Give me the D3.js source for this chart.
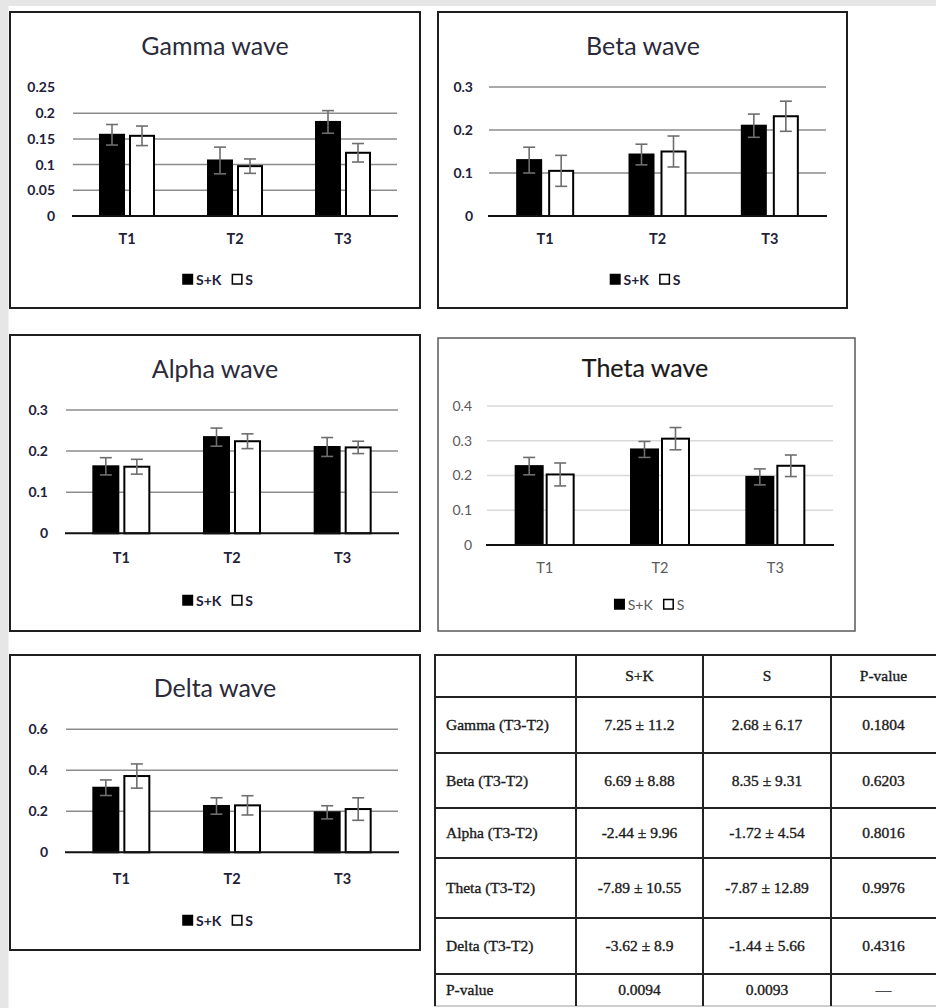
<!DOCTYPE html>
<html><head><meta charset="utf-8">
<script src="https://cdn.jsdelivr.net/npm/d3@7"></script>
<style>body{margin:0;background:#fff}svg{display:block}</style>
</head><body><svg id="c" width="936" height="1008"></svg>
<script>
// ---------- DATA ----------
const categories = ["T1", "T2", "T3"];
const seriesNames = ["S+K", "S"];

const gammaSK = [0.158, 0.108, 0.183], gammaSKErr = [0.020, 0.026, 0.022];
const gammaS  = [0.156, 0.097, 0.123], gammaSErr  = [0.019, 0.014, 0.018];
const betaSK  = [0.130, 0.143, 0.210], betaSKErr  = [0.030, 0.024, 0.027];
const betaS   = [0.105, 0.150, 0.232], betaSErr   = [0.036, 0.036, 0.035];
const alphaSK = [0.163, 0.234, 0.210], alphaSKErr = [0.021, 0.022, 0.023];
const alphaS  = [0.162, 0.224, 0.209], alphaSErr  = [0.018, 0.018, 0.015];
const thetaSK = [0.227, 0.275, 0.196], thetaSKErr = [0.025, 0.023, 0.023];
const thetaS  = [0.203, 0.306, 0.228], thetaSErr  = [0.033, 0.032, 0.031];
const deltaSK = [0.315, 0.226, 0.195], deltaSKErr = [0.038, 0.040, 0.032];
const deltaS  = [0.372, 0.229, 0.211], deltaSErr  = [0.059, 0.047, 0.055];

const gammaTicks = [0, 0.05, 0.1, 0.15, 0.2, 0.25];
const gammaTickLabels = ["0", "0.05", "0.1", "0.15", "0.2", "0.25"];
const gammaGrid = [0.05, 0.1, 0.15, 0.2];
const betaTicks = [0, 0.1, 0.2, 0.3];
const betaTickLabels = ["0", "0.1", "0.2", "0.3"];
const betaGrid = [0.1, 0.2, 0.3];
const alphaTicks = [0, 0.1, 0.2, 0.3];
const alphaTickLabels = ["0", "0.1", "0.2", "0.3"];
const alphaGrid = [0.1, 0.2, 0.3];
const thetaTicks = [0, 0.1, 0.2, 0.3, 0.4];
const thetaTickLabels = ["0", "0.1", "0.2", "0.3", "0.4"];
const thetaGrid = [0.1, 0.2, 0.3, 0.4];
const deltaTicks = [0, 0.2, 0.4, 0.6];
const deltaTickLabels = ["0", "0.2", "0.4", "0.6"];
const deltaGrid = [0.2, 0.4, 0.6];

const tableHeader = ["", "S+K", "S", "P-value"];
const tableRowLabels = ["Gamma (T3-T2)", "Beta (T3-T2)", "Alpha (T3-T2)", "Theta (T3-T2)", "Delta (T3-T2)", "P-value"];
const tableSK = ["7.25 ± 11.2", "6.69 ± 8.88", "-2.44 ± 9.96", "-7.89 ± 10.55", "-3.62 ± 8.9", "0.0094"];
const tableS  = ["2.68 ± 6.17", "8.35 ± 9.31", "-1.72 ± 4.54", "-7.87 ± 12.89", "-1.44 ± 5.66", "0.0093"];
const tableP  = ["0.1804", "0.6203", "0.8016", "0.9976", "0.4316", "—"];

// ---------- LAYOUT ----------
const svg = d3.select("#c");
svg.append("rect").attr("width", 936).attr("height", 1008).attr("fill", "#fff");
svg.append("rect").attr("x", 0).attr("y", 0).attr("width", 936).attr("height", 6).attr("fill", "#e6e6e6");
svg.append("rect").attr("x", 0).attr("y", 0).attr("width", 8.5).attr("height", 1008).attr("fill", "#e6e6e6");

const FONT = "Lato, 'Open Sans', sans-serif";

const excelStyle = {boxColor: "#1e1e1e", boxW: 2, gridColor: "#8c8c8c", gridW: 1.5, labelColor: "#22223a", labelWeight: "bold", titleColor: "#2a2a3a", titleStroke: 0};
const thetaStyle = {boxColor: "#5a5a5a", boxW: 1.5, gridColor: "#d9d9d9", gridW: 1.5, labelColor: "#595959", labelWeight: "normal", titleColor: "#1a1a1a", titleStroke: 0.2};

const panels = [
  {title: "Gamma wave", sk: gammaSK, skErr: gammaSKErr, s: gammaS, sErr: gammaSErr, ticks: gammaTicks, tickLabels: gammaTickLabels, grid: gammaGrid, max: 0.25,
   box: [10, 12, 420, 308], left: 73, right: 397, y0: 216, yTop: 87.5, labelX: 55, xLabelY: 239, legendY: 280, titleX: 215, titleY: 55, pair: 54, pad: 0.2, style: excelStyle},
  {title: "Beta wave", sk: betaSK, skErr: betaSKErr, s: betaS, sErr: betaSErr, ticks: betaTicks, tickLabels: betaTickLabels, grid: betaGrid, max: 0.3,
   box: [438, 12, 847, 308], left: 489, right: 826, y0: 216, yTop: 87, labelX: 473, xLabelY: 239, legendY: 280, titleX: 643, titleY: 55, pair: 56, pad: 0.25, style: excelStyle},
  {title: "Alpha wave", sk: alphaSK, skErr: alphaSKErr, s: alphaS, sErr: alphaSErr, ticks: alphaTicks, tickLabels: alphaTickLabels, grid: alphaGrid, max: 0.3,
   box: [10, 335, 420, 631], left: 66, right: 398, y0: 533.3, yTop: 410, labelX: 48, xLabelY: 558, legendY: 601, titleX: 215, titleY: 377.5, pair: 56, pad: 0.194, style: excelStyle},
  {title: "Theta wave", sk: thetaSK, skErr: thetaSKErr, s: thetaS, sErr: thetaSErr, ticks: thetaTicks, tickLabels: thetaTickLabels, grid: thetaGrid, max: 0.4,
   box: [438, 338, 855, 631], left: 487, right: 833, y0: 545, yTop: 406, labelX: 472, xLabelY: 568, legendY: 605, titleX: 645, titleY: 376.5, pair: 58, pad: 0.129, style: thetaStyle},
  {title: "Delta wave", sk: deltaSK, skErr: deltaSKErr, s: deltaS, sErr: deltaSErr, ticks: deltaTicks, tickLabels: deltaTickLabels, grid: deltaGrid, max: 0.6,
   box: [10, 655, 420, 950], left: 66, right: 398, y0: 852.3, yTop: 729.3, labelX: 48, xLabelY: 879, legendY: 921, titleX: 215, titleY: 696.5, pair: 56, pad: 0.194, style: excelStyle}
];

function drawPanel(p) {
  const st = p.style;
  const g = svg.append("g");
  g.append("rect").attr("x", p.box[0]).attr("y", p.box[1])
    .attr("width", p.box[2] - p.box[0]).attr("height", p.box[3] - p.box[1])
    .attr("fill", "#fff").attr("stroke", st.boxColor).attr("stroke-width", st.boxW);

  const x0 = d3.scaleBand().domain(categories).range([p.left, p.right]);
  const bw = x0.bandwidth();
  const x1 = d3.scaleBand().domain(seriesNames).range([bw / 2 - p.pair / 2, bw / 2 + p.pair / 2]).paddingInner(p.pad);
  const y = d3.scaleLinear().domain([0, p.max]).range([p.y0, p.yTop]);

  g.append("g").selectAll("line").data(p.grid).join("line")
    .attr("x1", p.left).attr("x2", p.right)
    .attr("y1", d => y(d)).attr("y2", d => y(d))
    .attr("stroke", st.gridColor).attr("stroke-width", st.gridW);

  const ya = g.append("g").attr("transform", `translate(${p.labelX},0)`)
    .call(d3.axisLeft(y).tickValues(p.ticks).tickFormat((d, i) => p.tickLabels[i]).tickSize(0).tickPadding(0));
  ya.select(".domain").remove();
  ya.selectAll("text").attr("font-family", FONT).attr("font-size", 14).attr("font-weight", st.labelWeight).attr("fill", st.labelColor);

  const series = [
    {name: "S+K", vals: p.sk, errs: p.skErr, fill: "#000"},
    {name: "S", vals: p.s, errs: p.sErr, fill: "#fff"}
  ];
  series.forEach(se => {
    const data = categories.map((c, i) => ({c, v: se.vals[i], e: se.errs[i]}));
    g.append("g").selectAll("rect").data(data).join("rect")
      .attr("x", d => x0(d.c) + x1(se.name))
      .attr("y", d => y(d.v))
      .attr("width", x1.bandwidth())
      .attr("height", d => y(0) - y(d.v))
      .attr("fill", se.fill).attr("stroke", "#000").attr("stroke-width", 2);
  });
  series.forEach(se => {
    const data = categories.map((c, i) => ({c, v: se.vals[i], e: se.errs[i]}));
    const eg = g.append("g").attr("stroke", "#6e6e6e").attr("stroke-width", 1.6);
    data.forEach(d => {
      const cx = x0(d.c) + x1(se.name) + x1.bandwidth() / 2;
      eg.append("line").attr("x1", cx).attr("x2", cx).attr("y1", y(d.v + d.e)).attr("y2", y(d.v - d.e));
      eg.append("line").attr("x1", cx - 6).attr("x2", cx + 6).attr("y1", y(d.v + d.e)).attr("y2", y(d.v + d.e));
      eg.append("line").attr("x1", cx - 6).attr("x2", cx + 6).attr("y1", y(d.v - d.e)).attr("y2", y(d.v - d.e));
    });
  });

  g.append("line").attr("x1", p.left - 1).attr("x2", p.right + 1).attr("y1", y(0)).attr("y2", y(0))
    .attr("stroke", "#111").attr("stroke-width", 2);

  g.append("g").selectAll("text").data(categories).join("text")
    .attr("x", d => x0(d) + bw / 2).attr("y", p.xLabelY).attr("dy", "0.35em")
    .attr("text-anchor", "middle").attr("font-family", FONT).attr("font-size", 14.5)
    .attr("font-weight", st.labelWeight).attr("fill", st.labelColor).text(d => d);

  g.append("text").attr("x", p.titleX).attr("y", p.titleY).attr("text-anchor", "middle")
    .attr("font-family", FONT).attr("font-size", 25).attr("fill", st.titleColor)
    .attr("stroke", st.titleColor).attr("stroke-width", st.titleStroke).text(p.title);

  const lg = g.append("g");
  const sw = 11;
  let cx = 0;
  series.forEach(se => {
    lg.append("rect").attr("x", cx).attr("y", p.legendY - sw / 2).attr("width", sw - 1.5).attr("height", sw - 1.5)
      .attr("fill", se.fill).attr("stroke", "#000").attr("stroke-width", 1.5);
    cx += sw + 2;
    const t = lg.append("text").attr("x", cx).attr("y", p.legendY).attr("dy", "0.35em")
      .attr("font-family", FONT).attr("font-size", 14).attr("font-weight", st.labelWeight)
      .attr("fill", st.labelColor).text(se.name);
    cx += t.node().getComputedTextLength() + 11;
  });
  const total = cx - 11;
  const center = (p.box[0] + p.box[2]) / 2 + 3;
  lg.attr("transform", `translate(${center - total / 2},0)`);
}
panels.forEach(drawPanel);

// ---------- TABLE ----------
const colX = [435, 576, 703, 831, 945];
const rowY = [655, 697, 753, 808, 858, 918, 974, 1006];
const tg = svg.append("g");
const rows = [tableHeader].concat(tableRowLabels.map((l, i) => [l, tableSK[i], tableS[i], tableP[i]]));
tg.append("rect").attr("x", colX[0]).attr("y", rowY[0]).attr("width", colX[4] - colX[0]).attr("height", rowY[7] - rowY[0]).attr("fill", "#fff");
tg.selectAll("line.h").data(rowY).join("line").attr("class", "h")
  .attr("x1", colX[0] - 1).attr("x2", colX[4]).attr("y1", d => d).attr("y2", d => d)
  .attr("stroke", (d, i) => i === rowY.length - 1 ? "#cfcfcf" : "#222").attr("stroke-width", 2);
tg.selectAll("line.v").data(colX.slice(0, 4)).join("line").attr("class", "v")
  .attr("x1", d => d).attr("x2", d => d).attr("y1", rowY[0] - 1).attr("y2", rowY[7])
  .attr("stroke", "#222").attr("stroke-width", 2);
rows.forEach((r, ri) => {
  const yc = (rowY[ri] + rowY[ri + 1]) / 2;
  r.forEach((txt, ci) => {
    if (!txt) return;
    const left = ci === 0 && ri > 0;
    tg.append("text")
      .attr("x", left ? colX[0] + 11 : (colX[ci] + (ci === 3 ? 936 : colX[ci + 1])) / 2)
      .attr("y", yc).attr("dy", "0.35em")
      .attr("text-anchor", left ? "start" : "middle")
      .attr("font-family", "'Liberation Serif', 'DejaVu Serif', serif")
      .attr("font-size", 15.5).attr("fill", "#1a1a1a")
      .attr("stroke", "#1a1a1a").attr("stroke-width", 0.35).text(txt);
  });
});
</script></body></html>
